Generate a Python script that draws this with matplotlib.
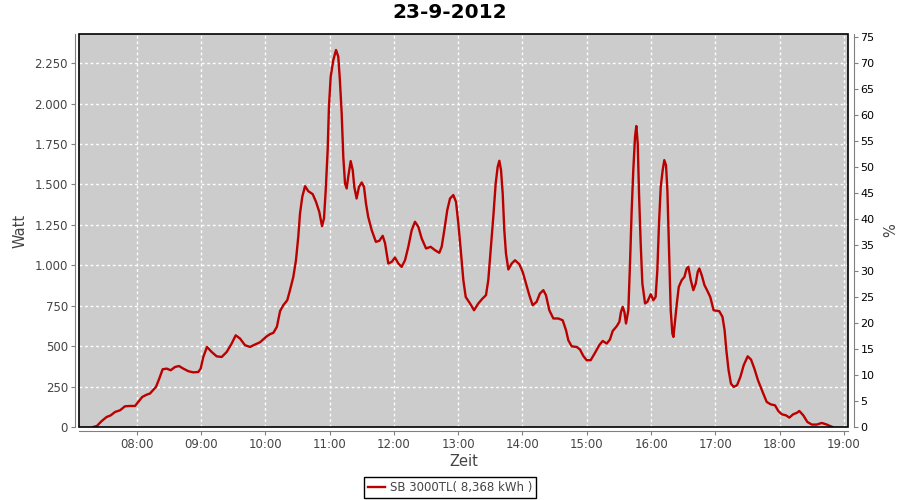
import matplotlib
matplotlib.use("Agg")
import matplotlib.pyplot as plt
from matplotlib.patches import Rectangle
from matplotlib.ticker import FuncFormatter

# ---- data (time in decimal hours, power in Watt) ----
hours = [7.325, 7.38, 7.456, 7.533, 7.596, 7.663, 7.74, 7.818, 7.896, 7.974,
         8.025, 8.087, 8.156, 8.207, 8.30, 8.352, 8.404, 8.467, 8.529, 8.596,
         8.658, 8.725, 8.803, 8.88, 8.958, 8.995, 9.036, 9.093, 9.166, 9.244,
         9.322, 9.40, 9.477, 9.54, 9.607, 9.684, 9.762, 9.84, 9.918, 10.02,
         10.073, 10.125, 10.18, 10.23, 10.28, 10.342, 10.384, 10.436, 10.477, 10.513,
         10.54, 10.575, 10.618, 10.669, 10.737, 10.789, 10.84, 10.882, 10.913, 10.94,
         10.97, 10.99, 11.017, 11.058, 11.10, 11.135, 11.16, 11.188, 11.213, 11.24,
         11.266, 11.29, 11.328, 11.36, 11.384, 11.42, 11.457, 11.50, 11.535, 11.566,
         11.60, 11.655, 11.72, 11.773, 11.826, 11.862, 11.913, 11.966, 12.017, 12.069,
         12.12, 12.173, 12.224, 12.277, 12.328, 12.38, 12.432, 12.50, 12.572, 12.64,
         12.706, 12.743, 12.784, 12.83, 12.873, 12.924, 12.966, 13.002, 13.04, 13.08,
         13.117, 13.184, 13.246, 13.313, 13.38, 13.432, 13.468, 13.505, 13.546, 13.583,
         13.614, 13.64, 13.666, 13.692, 13.717, 13.743, 13.78, 13.832, 13.883, 13.95,
         14.003, 14.054, 14.106, 14.158, 14.22, 14.27, 14.324, 14.365, 14.417, 14.48,
         14.557, 14.625, 14.677, 14.713, 14.765, 14.843, 14.894, 14.946, 14.998, 15.06,
         15.127, 15.194, 15.247, 15.31, 15.36, 15.403, 15.465, 15.506, 15.532, 15.558,
         15.584, 15.61, 15.646, 15.672, 15.698, 15.723, 15.75, 15.77, 15.792, 15.812,
         15.838, 15.864, 15.906, 15.942, 15.994, 16.035, 16.07, 16.097, 16.123, 16.15,
         16.18, 16.205, 16.232, 16.253, 16.28, 16.305, 16.331, 16.347, 16.374, 16.40,
         16.43, 16.476, 16.518, 16.553, 16.58, 16.617, 16.657, 16.694, 16.725, 16.75,
         16.787, 16.83, 16.87, 16.92, 16.972, 17.06, 17.11, 17.143, 17.17, 17.205,
         17.242, 17.284, 17.336, 17.388, 17.44, 17.502, 17.554, 17.606, 17.662, 17.745,
         17.798, 17.86, 17.927, 17.978, 18.03, 18.098, 18.15, 18.21, 18.264, 18.305,
         18.367, 18.43, 18.50, 18.575, 18.653, 18.72, 18.782, 18.82]
watt = [0, 6, 37, 62, 72, 93, 103, 128, 130, 130,
        155, 186, 200, 207, 248, 300, 357, 361, 351, 371,
        377, 361, 345, 338, 340, 361, 433, 495, 464, 437,
        433, 464, 516, 567, 547, 506, 495, 510, 524, 560,
        574, 582, 619, 717, 753, 784, 846, 928, 1031, 1176,
        1320, 1423, 1489, 1458, 1440, 1392, 1330, 1242, 1290, 1465,
        1712, 1980, 2166, 2269, 2331, 2290, 2145, 1939, 1671, 1506,
        1475, 1547, 1644, 1588, 1485, 1413, 1485, 1512, 1485, 1382,
        1300, 1217, 1145, 1151, 1182, 1137, 1011, 1021, 1048, 1011,
        990, 1031, 1114, 1217, 1269, 1238, 1166, 1104, 1114, 1093,
        1077, 1114, 1217, 1341, 1413, 1434, 1392, 1259, 1093, 908,
        804, 764, 722, 764, 795, 815, 908, 1093, 1300, 1506,
        1609, 1646, 1588, 1444, 1217, 1073, 974, 1011, 1031, 1007,
        959, 887, 815, 753, 774, 825, 846, 815, 722, 671,
        671, 660, 598, 536, 499, 495, 479, 439, 413, 413,
        458, 506, 532, 516, 541, 594, 623, 650, 712, 743,
        712, 640, 722, 1011, 1341, 1588, 1795, 1861, 1754, 1444,
        1135, 887, 764, 774, 821, 784, 804, 970, 1259, 1485,
        1588, 1650, 1619, 1465, 1073, 722, 578, 557, 660, 764,
        866, 908, 928, 980, 990, 908, 846, 887, 959, 980,
        939, 877, 846, 804, 722, 716, 681, 598, 475, 351,
        268, 248, 258, 309, 382, 437, 417, 361, 289, 206,
        155, 140, 134, 99, 79, 72, 58, 79, 87, 99,
        72, 31, 15, 15, 25, 17, 6, 0]

title = "23-9-2012"
series_label = "SB 3000TL( 8,368 kWh )"
x_ticks = list(range(8, 20))
x_ticklabels = [f"{h:02d}:00" for h in x_ticks]
y_left_ticks = list(range(0, 2251, 250))
y_right_ticks = list(range(0, 76, 5))

# ---- figure ----
fig = plt.figure(figsize=(9, 5), dpi=100)
ax = fig.add_axes([79 / 900, 1 - 427 / 500, (848 - 79) / 900, (427 - 34) / 500])
ax.set_facecolor("#cccccc")

ax.plot(hours, watt, color="#bb0000", lw=1.7, solid_joinstyle="round", zorder=3,
        label=series_label)

ax.set_xlim(7.103, 19.062)
ax.set_ylim(0, 2430)
ax.set_xticks(x_ticks)
ax.set_xticklabels(x_ticklabels)
ax.set_yticks(y_left_ticks)
ax.yaxis.set_major_formatter(FuncFormatter(lambda v, p: f"{int(v):,}".replace(",", ".")))

ax.grid(True, color="white", linestyle=(0, (2, 2)), lw=1)
ax.set_axisbelow(True)

gray = "#808080"
txt = "#444444"
for s in ["top", "right"]:
    ax.spines[s].set_visible(False)
for s in ["left", "bottom"]:
    ax.spines[s].set_color(gray)
    ax.spines[s].set_position(("outward", 3))
ax.tick_params(axis="both", colors=gray, labelcolor=txt, labelsize=8.5,
               length=3, direction="out", pad=2)

ax.add_patch(Rectangle((0, 0), 1, 1, transform=ax.transAxes, fill=False,
                       edgecolor="black", lw=1.2, zorder=5, clip_on=False))

ax.set_ylabel("Watt", fontsize=10.5, color=txt, labelpad=5)
ax.set_xlabel("Zeit", fontsize=10.5, color=txt, labelpad=2)

ax2 = ax.twinx()
ax2.set_ylim(0, 75.5)
ax2.set_yticks(y_right_ticks)
for s in ["top", "left", "bottom"]:
    ax2.spines[s].set_visible(False)
ax2.spines["right"].set_color(gray)
ax2.spines["right"].set_position(("outward", 4))
ax2.tick_params(axis="y", colors=gray, labelcolor="black", labelsize=8,
                length=3, direction="out", pad=2)
ax2.set_ylabel("%", fontsize=10.5, color=txt, labelpad=6)

fig.text(0.5, 0.974, title, ha="center", va="center", fontsize=14.5,
         fontweight="bold", color="black")

leg = ax.legend(loc="center", bbox_to_anchor=(450 / 900, 1 - 487.5 / 500),
                bbox_transform=fig.transFigure, fontsize=8.5, frameon=True,
                fancybox=False, framealpha=1, edgecolor="black",
                handlelength=1.5, handletextpad=0.4, borderpad=0.3,
                borderaxespad=0)
leg.get_frame().set_linewidth(1)
for t in leg.get_texts():
    t.set_color(txt)

fig.savefig("out.png", dpi=100)
